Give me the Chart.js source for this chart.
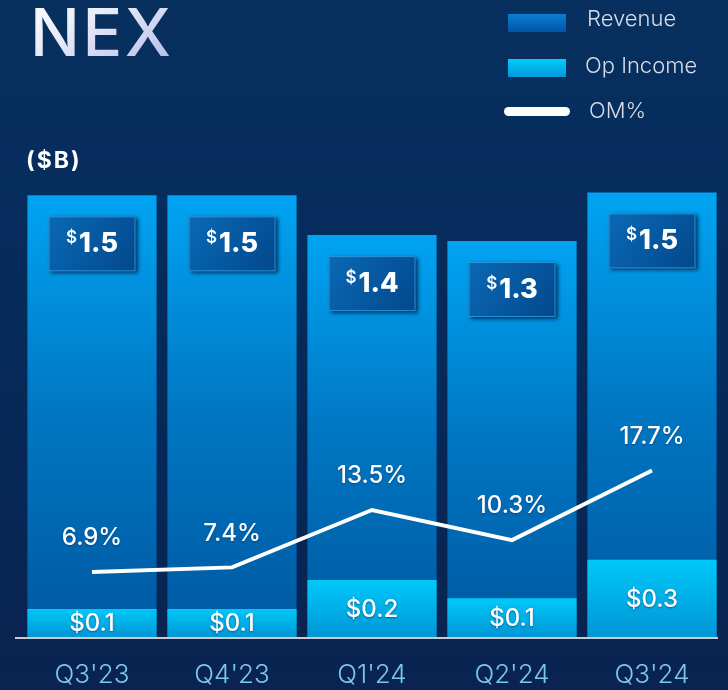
<!DOCTYPE html>
<html>
<head>
<meta charset="utf-8">
<script src="https://cdn.jsdelivr.net/npm/chart.js@4.4.1/dist/chart.umd.min.js"></script>
<style>
  html, body { margin:0; padding:0; }
  body { width:728px; height:690px; overflow:hidden; position:relative;
    background: linear-gradient(180deg, #07305f 0%, #052b5b 45%, #0a2350 100%);
    font-family: Inter, "Open Sans", sans-serif; }
  #c { position:absolute; left:0; top:0; }
  .t { position:absolute; white-space:nowrap; line-height:1; }
  #title { left:30px; top:-1px; font-size:66px; font-weight:500; letter-spacing:2.5px;
    background: linear-gradient(150deg, #ffffff 0%, #e6e9f8 40%, #b3bbe8 100%);
    -webkit-background-clip:text; background-clip:text; color:transparent; }
  #unit { left:26px; top:149px; font-size:23px; font-weight:700; color:#ffffff; letter-spacing:2px; }
  .lg { font-size:22px; font-weight:300; color:#d8dce8; }
  .sw { position:absolute; width:58px; height:18px; left:508px; }
</style>
</head>
<body>
<canvas id="c" width="728" height="690"></canvas>
<div class="t" id="title">NEX</div>
<div class="t" id="unit">($B)</div>
<div class="sw" style="top:14px;background:linear-gradient(180deg,#0a7fd4,#0055a4);"></div>
<div class="t lg" style="left:587px;top:7px;">Revenue</div>
<div class="sw" style="top:59px;background:linear-gradient(180deg,#00ccfa,#0098da);"></div>
<div class="t lg" style="left:585px;top:54px;">Op Income</div>
<div style="position:absolute;left:504px;top:107px;width:66px;height:9px;border-radius:5px;background:#ffffff;"></div>
<div class="t lg" style="left:589px;top:99px;">OM%</div>
<script>
const categories = ["Q3'23", "Q4'23", "Q1'24", "Q2'24", "Q3'24"];
const revenue = [1.50, 1.50, 1.365, 1.345, 1.51];
const opIncome = [0.095, 0.095, 0.194, 0.132, 0.262];
const omPct = [6.9, 7.4, 13.5, 10.3, 17.7];
const revenueLabels = ["1.5", "1.5", "1.4", "1.3", "1.5"];
const opIncomeLabels = ["$0.1", "$0.1", "$0.2", "$0.1", "$0.3"];
const omLabels = ["6.9%", "7.4%", "13.5%", "10.3%", "17.7%"];

function barGradient(stops) {
  return function(context) {
    const chart = context.chart;
    const ca = chart.chartArea;
    if (!ca || context.raw === undefined) return stops[0][1];
    const yTop = chart.scales.y.getPixelForValue(context.raw);
    const g = chart.ctx.createLinearGradient(0, yTop, 0, ca.bottom);
    stops.forEach(s => g.addColorStop(s[0], s[1]));
    return g;
  };
}

const labelPlugin = {
  id: 'customLabels',
  afterDatasetsDraw(chart) {
    const ctx = chart.ctx;
    const ca = chart.chartArea;
    ctx.save();
    ctx.strokeStyle = '#c6cbd4';
    ctx.lineWidth = 2;
    ctx.beginPath();
    ctx.moveTo(15, ca.bottom + 1);
    ctx.lineTo(718, ca.bottom + 1);
    ctx.stroke();
    ctx.restore();

    const revMeta = chart.getDatasetMeta(0);
    revMeta.data.forEach((el, i) => {
      const w = 87, h = 55;
      const bx = el.x - w / 2, by = el.y + 21;
      ctx.save();
      ctx.shadowColor = 'rgba(0,20,60,0.75)';
      ctx.shadowBlur = 4;
      ctx.shadowOffsetX = 2;
      ctx.shadowOffsetY = 2;
      const g = ctx.createLinearGradient(bx, by, bx + w, by + h);
      g.addColorStop(0, '#0a69b5');
      g.addColorStop(1, '#02488c');
      ctx.fillStyle = g;
      ctx.fillRect(bx, by, w, h);
      ctx.restore();
      ctx.save();
      ctx.strokeStyle = 'rgba(60,170,240,0.7)';
      ctx.lineWidth = 1;
      ctx.strokeRect(bx + 0.5, by + 0.5, w - 1, h - 1);
      ctx.fillStyle = '#ffffff';
      ctx.textBaseline = 'alphabetic';
      ctx.font = '600 17px Inter';
      const wd = ctx.measureText('$').width;
      ctx.font = '800 27px Inter';
      const wn = ctx.measureText(revenueLabels[i]).width;
      const total = wd + 2 + wn;
      const sx = el.x - total / 2;
      ctx.font = '600 17px Inter';
      ctx.fillText('$', sx, by + 27);
      ctx.font = '800 27px Inter';
      ctx.fillText(revenueLabels[i], sx + wd + 2, by + 36);
      ctx.restore();
    });

    const opMeta = chart.getDatasetMeta(1);
    opMeta.data.forEach((el, i) => {
      ctx.save();
      ctx.fillStyle = '#ffffff';
      ctx.font = '500 24px Inter';
      ctx.textAlign = 'center';
      ctx.textBaseline = 'middle';
      ctx.shadowColor = 'rgba(0,30,70,0.5)';
      ctx.shadowBlur = 2;
      ctx.shadowOffsetY = 1;
      ctx.fillText(opIncomeLabels[i], el.x, (el.y + el.base) / 2 + 1);
      ctx.restore();
    });

    const lineMeta = chart.getDatasetMeta(2);
    lineMeta.data.forEach((pt, i) => {
      ctx.save();
      ctx.fillStyle = '#ffffff';
      ctx.font = '500 24px Inter';
      ctx.textAlign = 'center';
      ctx.textBaseline = 'middle';
      ctx.shadowColor = 'rgba(0,30,70,0.4)';
      ctx.shadowBlur = 2;
      ctx.shadowOffsetY = 1;
      ctx.fillText(omLabels[i], pt.x, pt.y - 34);
      ctx.restore();
    });
  }
};

new Chart(document.getElementById('c'), {
  type: 'bar',
  data: {
    labels: categories,
    datasets: [
      {
        label: 'Revenue', data: revenue, yAxisID: 'y', grouped: false, order: 2,
        backgroundColor: barGradient([[0, '#00a4f2'], [0.5, '#0076c2'], [1, '#0058a1']]),
        borderWidth: 0, barPercentage: 0.923, categoryPercentage: 1
      },
      {
        label: 'Op Income', data: opIncome, yAxisID: 'y', grouped: false, order: 1,
        backgroundColor: barGradient([[0, '#00c9f9'], [1, '#0096d6']]),
        borderWidth: 0, barPercentage: 0.923, categoryPercentage: 1
      },
      {
        type: 'line', label: 'OM%', data: omPct, yAxisID: 'y1', order: 0,
        borderColor: '#ffffff', borderWidth: 4, pointRadius: 0, tension: 0, fill: false
      }
    ]
  },
  options: {
    responsive: false,
    animation: false,
    devicePixelRatio: 1,
    layout: { padding: { top: 160, left: 22, right: 6, bottom: 2 } },
    plugins: { legend: { display: false }, tooltip: { enabled: false }, title: { display: false } },
    scales: {
      x: {
        grid: { display: false, drawTicks: false },
        border: { display: false },
        ticks: { color: '#7cc6ef', font: { family: 'Inter', size: 26, weight: 300 }, padding: 23 },
        afterFit(scale) { scale.height = 51; }
      },
      y: { display: false, min: 0, max: 1.62 },
      y1: { display: false, min: 0, max: 50.7 }
    }
  },
  plugins: [labelPlugin]
});
</script>
</body>
</html>
